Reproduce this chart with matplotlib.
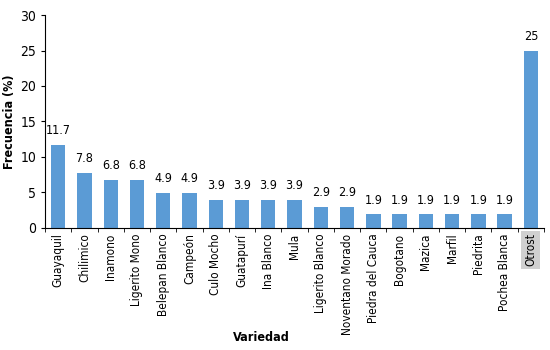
import numpy as np
import matplotlib.pyplot as plt

plt.rcParams['font.family'] = ['DejaVu Sans']
plt.rcParams['font.stretch'] = 'condensed'

variedades = ["Guayaquil", "Chilimico", "Inamono", "Ligerito Mono", "Belepan Blanco",
              "Campeón", "Culo Mocho", "Guatapurí", "Ina Blanco", "Mula",
              "Ligerito Blanco", "Noventano Morado", "Piedra del Cauca", "Bogotano",
              "Mazica", "Marfil", "Piedrita", "Pochea Blanca", "Otrost"]
frecuencia = [11.7, 7.8, 6.8, 6.8, 4.9, 4.9, 3.9, 3.9, 3.9, 3.9,
              2.9, 2.9, 1.9, 1.9, 1.9, 1.9, 1.9, 1.9, 25]
etiquetas = ["11.7", "7.8", "6.8", "6.8", "4.9", "4.9", "3.9", "3.9", "3.9", "3.9",
             "2.9", "2.9", "1.9", "1.9", "1.9", "1.9", "1.9", "1.9", "25"]

fig = plt.figure(figsize=(5.5, 3.5), dpi=100)
ax = fig.add_axes([0.082, 0.349, 0.907, 0.608])

x = np.arange(len(variedades))
bars = ax.bar(x, frecuencia, width=0.55, color='#5B9BD5')

for b, lab in zip(bars, etiquetas):
    ax.text(b.get_x() + b.get_width() / 2, b.get_height() + 1.1, lab,
            ha='center', va='bottom', fontsize=9)

ax.set_xlim(-0.5, len(variedades) - 0.5)
ax.set_ylim(0, 30)
ax.set_yticks([0, 5, 10, 15, 20, 25, 30])
ax.tick_params(axis='y', labelsize=10, length=3)

ax.set_xticks(x)
ax.set_xticklabels(variedades, rotation=90, fontsize=8.5)
ax.tick_params(axis='x', length=0, pad=4)
ax.set_xticks(np.arange(-0.5, len(variedades), 1), minor=True)
ax.tick_params(axis='x', which='minor', length=3)

lbl = ax.get_xticklabels()[-1]
lbl.set_bbox(dict(facecolor='#d0d0d0', edgecolor='none', pad=2))

ax.spines['top'].set_visible(False)
ax.spines['right'].set_visible(False)

ax.set_ylabel('Frecuencia (%)', fontsize=9, fontweight='bold', labelpad=3)
fig.text(0.476, 0.025, 'Variedad', fontsize=9, fontweight='bold', ha='center')

plt.savefig('out.png')
